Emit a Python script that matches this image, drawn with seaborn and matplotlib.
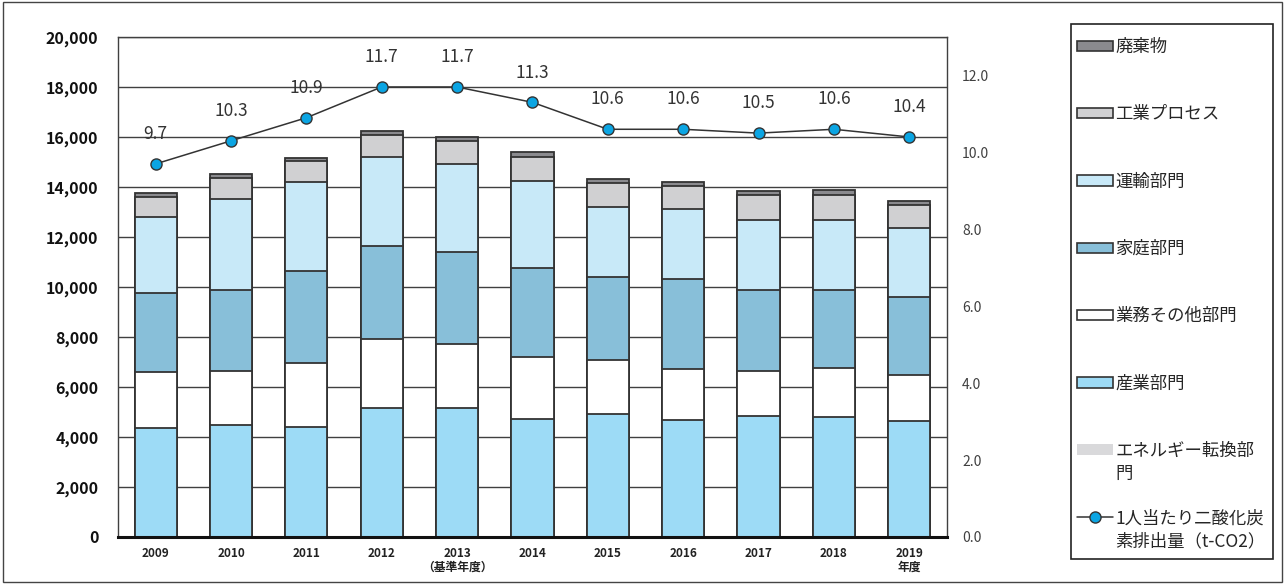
import numpy as np
import pandas as pd
import seaborn as sns
import matplotlib.pyplot as plt
from matplotlib.patches import Patch, Rectangle
from matplotlib.lines import Line2D

# data (t-CO2)
years = ['2009', '2010', '2011', '2012', '2013', '2014', '2015', '2016', '2017', '2018', '2019']
tick_labels = ['2009', '2010', '2011', '2012', '2013\n（基準年度）', '2014', '2015',
               '2016', '2017', '2018', '2019\n年度']
energy = [0, 0, 0, 0, 0, 0, 0, 0, 0, 0, 0]
industry = [4350, 4490, 4410, 5170, 5160, 4720, 4920, 4690, 4830, 4790, 4650]
commercial = [2260, 2160, 2540, 2740, 2570, 2490, 2170, 2040, 1820, 1970, 1820]
household = [3140, 3230, 3690, 3730, 3680, 3540, 3300, 3580, 3230, 3120, 3140]
transport = [3050, 3640, 3550, 3560, 3520, 3500, 2820, 2800, 2800, 2800, 2740]
process = [790, 830, 850, 870, 910, 960, 940, 920, 1000, 1000, 930]
waste = [160, 160, 130, 160, 170, 180, 160, 170, 170, 200, 170]
per_capita = [9.7, 10.3, 10.9, 11.7, 11.7, 11.3, 10.6, 10.6, 10.5, 10.6, 10.4]

sectors = ['エネルギー転換部門', '産業部門', '業務その他部門', '家庭部門', '運輸部門', '工業プロセス', '廃棄物']
colors = ['#D9D9DB', '#9DDBF6', '#FFFFFF', '#88BFD9', '#C8E9F8', '#D0D0D2', '#8A8A8E']

df = pd.DataFrame({'year': years, sectors[0]: energy, sectors[1]: industry, sectors[2]: commercial,
                   sectors[3]: household, sectors[4]: transport, sectors[5]: process, sectors[6]: waste})
cum = df[sectors].cumsum(axis=1)
cum['year'] = years

sns.set_theme(style='white')
plt.rcParams['font.family'] = ['Noto Sans CJK JP', 'DejaVu Sans']

fig = plt.figure(figsize=(12.85, 5.84), dpi=100)
ax = fig.add_axes([0.0918, 0.0805, 0.6451, 0.8562])

# stacked bars: draw cumulative totals from the top segment down
for sec, col in reversed(list(zip(sectors, colors))):
    ec = 'none' if sec == sectors[0] else '#333333'
    sns.barplot(data=cum, x='year', y=sec, color=col, saturation=1, width=0.56,
                edgecolor=ec, linewidth=1.3, ax=ax, zorder=2)

ax.set_ylim(0, 20000)
ax.set_xlim(-0.5, 10.5)
ax.set_yticks(np.arange(0, 20001, 2000))
ax.set_yticklabels([f'{v:,}' for v in range(0, 20001, 2000)], fontsize=11.5, fontweight='bold', color='#111111')
ax.set_xticks(range(len(years)))
ax.set_xticklabels(tick_labels, fontsize=8.5, fontweight='bold', color='#222222', linespacing=1.1)
ax.tick_params(axis='y', length=0, pad=14)
ax.tick_params(axis='x', length=0, pad=7)
ax.set_xlabel('')
ax.set_ylabel('')
ax.set_axisbelow(True)
ax.yaxis.grid(True, color='#404040', linewidth=1.0)
for s in ['left', 'right', 'top']:
    ax.spines[s].set_color('#404040')
    ax.spines[s].set_linewidth(1.0)
ax.spines['bottom'].set_color('#111111')
ax.spines['bottom'].set_linewidth(2.2)

# per-capita line on the right axis
ax2 = ax.twinx()
sns.lineplot(x=np.arange(len(years)), y=per_capita, ax=ax2, color='#333333', linewidth=1.1,
             marker='o', markersize=8, markerfacecolor='#0BA5E3', markeredgecolor='#333333',
             markeredgewidth=1.0, zorder=5)
for i, v in enumerate(per_capita):
    ax2.annotate(f'{v:.1f}', (i, v), xytext=(0, 15), textcoords='offset points',
                 ha='center', va='bottom', fontsize=12.5, color='#333333')
ax2.set_ylim(0, 13)
ax2.set_xlim(-0.5, 10.5)
ax2.set_yticks(np.arange(0, 12.1, 2))
ax2.set_yticklabels([f'{v:.1f}' for v in np.arange(0, 12.1, 2)], fontsize=10, color='#404040')
ax2.tick_params(axis='y', length=0, pad=11)
ax2.grid(False)
for s in ax2.spines.values():
    s.set_visible(False)

handles = [Patch(facecolor=colors[6], edgecolor='#333333', linewidth=1.2),
           Patch(facecolor=colors[5], edgecolor='#333333', linewidth=1.2),
           Patch(facecolor=colors[4], edgecolor='#333333', linewidth=1.2),
           Patch(facecolor=colors[3], edgecolor='#333333', linewidth=1.2),
           Patch(facecolor=colors[2], edgecolor='#333333', linewidth=1.2),
           Patch(facecolor=colors[1], edgecolor='#333333', linewidth=1.2),
           Patch(facecolor=colors[0], edgecolor='none'),
           Line2D([], [], color='#333333', linewidth=1.1, marker='o', markersize=8,
                  markerfacecolor='#0BA5E3', markeredgecolor='#333333')]
labels = ['廃棄物', '工業プロセス', '運輸部門', '家庭部門', '業務その他部門', '産業部門',
          'エネルギー転換部', '1人当たり二酸化炭']
wrapped = {6: '門', 7: '素排出量（t-CO2）'}
leg = fig.legend(handles, labels, loc='upper left', bbox_to_anchor=(1077 / 1285, 1 - 38 / 584),
                 frameon=False, fontsize=12.5,
                 labelspacing=2.84, handlelength=2.1, handleheight=0.55, handletextpad=0.12,
                 borderpad=0, borderaxespad=0)

# wrapped second lines of the long legend labels, placed under the first line
fig.canvas.draw()
texts = leg.get_texts()
for i, extra in wrapped.items():
    bb = texts[i].get_window_extent()
    x, y = fig.transFigure.inverted().transform((bb.x0, bb.y0 - 23))
    fig.text(x, y, extra, ha='left', va='bottom', fontsize=12.5, color=texts[i].get_color())

# legend box and outer border
fig.add_artist(Rectangle((1071 / 1285, 1 - 559 / 584), 202 / 1285, 535 / 584, transform=fig.transFigure,
                         fill=False, edgecolor='#222222', linewidth=1.2))
fig.add_artist(Rectangle((0.002, 0.003), 0.996, 0.994, transform=fig.transFigure,
                         fill=False, edgecolor='#444444', linewidth=1.0))

fig.savefig('out.png', dpi=100)
